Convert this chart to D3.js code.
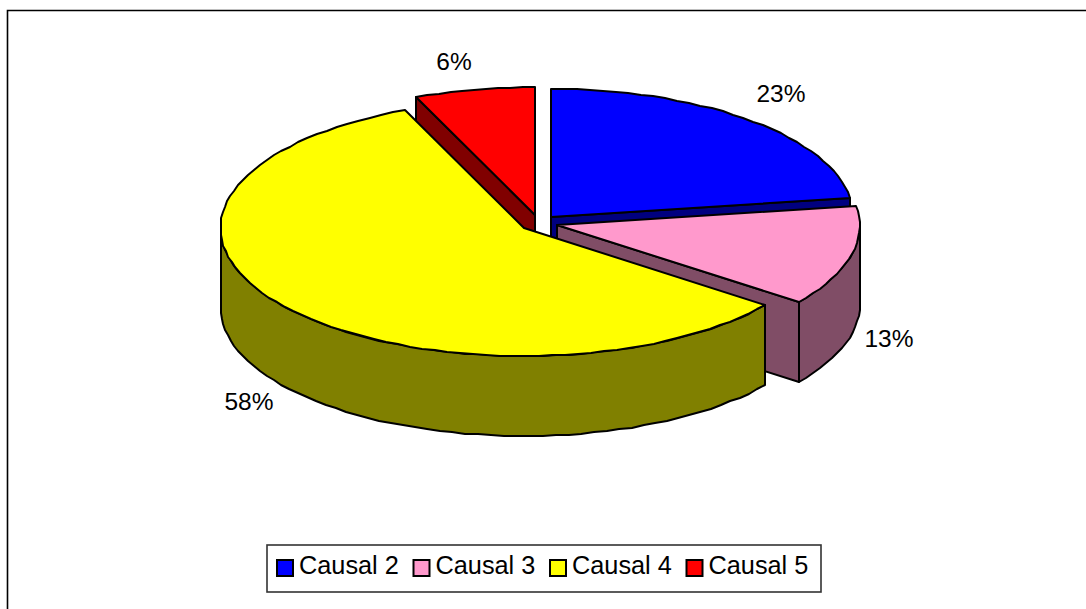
<!DOCTYPE html>
<html><head><meta charset="utf-8">
<script src="https://cdn.jsdelivr.net/npm/d3@7"></script>
<style>html,body{margin:0;padding:0;background:#fff}svg{display:block}text{font-family:"Liberation Sans",Arial,sans-serif;fill:#000}</style>
</head><body><div id="c"></div>
<script>
const categories = ["Causal 2","Causal 3","Causal 4","Causal 5"];
const values = [22.6,12.7,58.3,6.4];
const colors = ["#0000FF","#FF99CC","#FFFF00","#FF0000"];
const wallColors = ["#000080","#804D66","#808000","#800000"];

const W=1086,H=609, cx=538.5, cy=223, rx=303, ry=128, depth=80, explode=0.0627;
const labelCenters=[[781,94],[889,339],[249,402],[454,62]];
const legendX=[276,412.5,549,685.5];

const svg=d3.select("#c").append("svg").attr("width",W).attr("height",H);
svg.append("rect").attr("width",W).attr("height",H).attr("fill","#fff");
svg.append("path").attr("d",`M7.5,${H}V10.5H${W}`).attr("fill","none").attr("stroke","#000").attr("stroke-width",1.6);

const arcs=d3.pie().sort(null).value(d=>d)(values).map((a,i)=>({...a,i,mid:(a.startAngle+a.endAngle)/2}));
const px=(o,a,r=1)=>[o[0]+rx*r*Math.sin(a),o[1]-ry*r*Math.cos(a)];
const down=p=>[p[0],p[1]+depth];
const line=d3.line().x(d=>Math.round(d[0])).y(d=>Math.round(d[1]));
const STEP=2.5*Math.PI/180;
function rim(o,a0,a1){
  const n=Math.max(1,Math.ceil((a1-a0)/STEP)),out=[];
  for(let k=0;k<=n;k++)out.push(px(o,a0+(a1-a0)*k/n));
  return out;
}
function poly(pts,fill){
  svg.append("path").attr("d",line(pts)+"Z").attr("fill",fill)
    .attr("stroke","#000").attr("stroke-width",2).attr("stroke-linejoin","round");
}
arcs.slice().sort((a,b)=>Math.cos(b.mid)-Math.cos(a.mid)).forEach(a=>{
  const o=[cx+rx*explode*Math.sin(a.mid),cy-ry*explode*Math.cos(a.mid)];
  const wall=wallColors[a.i];
  [[a.startAngle,Math.sin(a.startAngle)<-1e-6],[a.endAngle,Math.sin(a.endAngle)>1e-6]].forEach(([ang,vis])=>{
    if(!vis)return;
    const e=px(o,ang);
    poly([o,e,down(e),down(o)],wall);
  });
  // outer wall on the viewer-facing half (pi/2 .. 3pi/2)
  const s=Math.max(a.startAngle,Math.PI/2),t=Math.min(a.endAngle,3*Math.PI/2);
  if(t>s){
    const r=rim(o,s,t);
    poly(r.concat(r.map(down).reverse()),wall);
  }
  poly([o].concat(rim(o,a.startAngle,a.endAngle)),colors[a.i]);
});

arcs.forEach(a=>{
  svg.append("text").attr("x",labelCenters[a.i][0]).attr("y",labelCenters[a.i][1]+8)
    .attr("text-anchor","middle").attr("font-size",24.5).attr("fill","#111")
    .text(Math.round(values[a.i])+"%");
});

const lg=svg.append("g");
lg.append("rect").attr("x",267).attr("y",545).attr("width",554).attr("height",47)
  .attr("fill","#fff").attr("stroke","#333").attr("stroke-width",1.6);
categories.forEach((c,i)=>{
  lg.append("rect").attr("x",legendX[i]+1).attr("y",560).attr("width",16).attr("height",16)
    .attr("fill",colors[i]).attr("stroke","#000").attr("stroke-width",2);
  lg.append("text").attr("x",legendX[i]+23).attr("y",573.5).attr("font-size",25.3).text(c);
});
</script></body></html>
